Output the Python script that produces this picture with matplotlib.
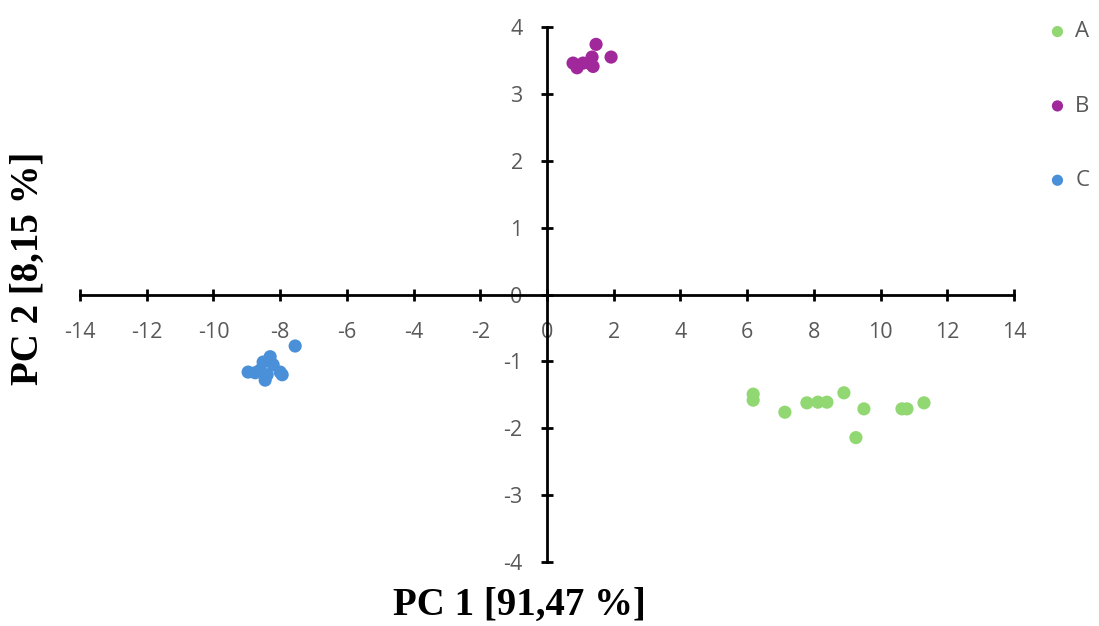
import matplotlib.pyplot as plt

plt.rcParams["axes.unicode_minus"] = False

# PCA scores per group
a_pc1 = [6.18, 6.18, 7.13, 7.79, 8.12, 8.39, 8.90, 9.50, 9.26, 10.64, 10.79, 11.30]
a_pc2 = [-1.49, -1.58, -1.76, -1.62, -1.61, -1.61, -1.47, -1.71, -2.14, -1.71, -1.71, -1.62]

b_pc1 = [0.78, 0.90, 1.08, 1.26, 1.35, 1.47, 1.38, 1.92]
b_pc2 = [3.46, 3.39, 3.46, 3.46, 3.55, 3.74, 3.41, 3.55]

c_pc1 = [-8.96, -8.75, -8.60, -8.51, -8.30, -8.21, -8.39, -8.45, -8.00, -7.94, -7.55]
c_pc2 = [-1.16, -1.17, -1.13, -1.01, -0.93, -1.05, -1.20, -1.28, -1.16, -1.20, -0.77]

group_names = ["A", "B", "C"]
group_colors = ["#92D872", "#A0289A", "#4A90D9"]

x_ticks = list(range(-14, 15, 2))
y_ticks = list(range(-4, 5, 1))

fig = plt.figure(figsize=(10.99, 6.26), dpi=100)
ax = fig.add_axes([0.0728, 0.1022, 0.8499, 0.8547])

series = [(a_pc1, a_pc2), (b_pc1, b_pc2), (c_pc1, c_pc2)]
for (xs, ys), name, col in zip(series, group_names, group_colors):
    ax.scatter(xs, ys, s=90, color=col, label=name, edgecolors="none", zorder=3)

ax.set_xlim(-14, 14)
ax.set_ylim(-4, 4)
ax.set_xticks(x_ticks)
ax.set_yticks(y_ticks)

for side in ("top", "right"):
    ax.spines[side].set_visible(False)
ax.spines["left"].set_position(("data", 0))
ax.spines["bottom"].set_position(("data", 0))
for side in ("left", "bottom"):
    ax.spines[side].set_linewidth(2)
    ax.spines[side].set_color("black")

ax.tick_params(axis="both", direction="inout", length=9, width=2, color="black",
               labelsize=15.5, labelcolor="#595959")
ax.tick_params(axis="x", pad=15)
ax.tick_params(axis="y", pad=13)
for lbl in ax.get_xticklabels() + ax.get_yticklabels():
    lbl.set_fontfamily("Open Sans")

fig.text(0.473, 0.033, "PC 1 [91,47 %]", ha="center", va="center",
         fontsize=28, fontweight="bold", family="Liberation Serif")
fig.text(0.026, 0.572, "PC 2 [8,15 %]", ha="center", va="center", rotation=90,
         fontsize=28, fontweight="bold", family="Liberation Serif")

leg = fig.legend(loc="upper left", bbox_to_anchor=(0.944, 0.980), frameon=False,
                 prop=dict(family="Open Sans", size=16), labelcolor="#595959",
                 markerscale=0.85, handletextpad=0.3, labelspacing=2.4,
                 handlelength=1.0, borderaxespad=0)

fig.savefig("out.png", dpi=100)
